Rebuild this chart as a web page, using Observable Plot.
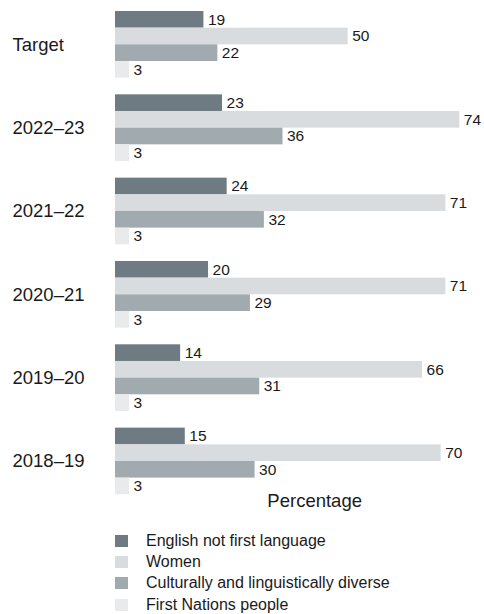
<!DOCTYPE html>
<html>
<head>
<meta charset="utf-8">
<script src="https://cdn.jsdelivr.net/npm/d3@7"></script>
<script src="https://cdn.jsdelivr.net/npm/@observablehq/plot@0.6"></script>
<style>
  html, body { margin: 0; padding: 0; background: #fff; }
  #chart { width: 484px; font-family: "Liberation Sans", Arial, sans-serif; color: #1a1a1a; }
  .legend { margin-top: 5px; }
  .legend .row { display: flex; align-items: center; height: 21.3px; font-size: 16px; }
  .legend .sw { width: 13px; height: 12px; margin-left: 115px; margin-right: 18px; flex: none; }
</style>
</head>
<body>
<div id="chart"></div>
<script>
const periods = ["Target", "2022–23", "2021–22", "2020–21", "2019–20", "2018–19"];
const seriesNames = ["English not first language", "Women", "Culturally and linguistically diverse", "First Nations people"];
const seriesColors = ["#6f7b82", "#d8dcdf", "#a1aaaf", "#e9eaec"];
const englishNotFirst = [19, 23, 24, 20, 14, 15];
const women = [50, 74, 71, 71, 66, 70];
const cald = [22, 36, 32, 29, 31, 30];
const firstNations = [3, 3, 3, 3, 3, 3];
const axisLabel = "Percentage";

const seriesValues = [englishNotFirst, women, cald, firstNations];
const rows = [];
periods.forEach((p, i) => {
  seriesNames.forEach((s, j) => {
    rows.push({period: p, series: s, value: seriesValues[j][i]});
  });
});

const font = "'Liberation Sans', Arial, sans-serif";

const chart = Plot.plot({
  width: 484,
  height: 525,
  marginLeft: 115,
  marginRight: 24.7,
  marginTop: 11,
  marginBottom: 30.7,
  style: {fontFamily: font, background: "#fff", color: "#1a1a1a"},
  x: {domain: [0, d3.max(rows, d => d.value)], axis: null},
  y: {domain: seriesNames, axis: null, padding: 0, round: false},
  fy: {domain: periods, axis: null, paddingInner: 0.2, paddingOuter: 0, round: false},
  color: {domain: seriesNames, range: seriesColors},
  marks: [
    Plot.barX(rows, {fy: "period", y: "series", x: "value", fill: "series"}),
    Plot.text(rows, {
      fy: "period", y: "series", x: "value", text: d => String(d.value),
      textAnchor: "start", dx: 4, fontSize: 15.5, fill: "#1a1a1a"
    }),
    Plot.text(periods, {
      fy: d => d, text: d => d, frameAnchor: "left", textAnchor: "start",
      dx: -103, fontSize: 18.5, fill: "#1a1a1a"
    }),
    Plot.text([axisLabel], {
      fy: () => periods[periods.length - 1], text: d => d,
      frameAnchor: "bottom", dy: 12.5, dx: 27, fontSize: 18.5, fill: "#1a1a1a"
    })
  ]
});

const root = document.getElementById("chart");
root.appendChild(chart);

const legend = document.createElement("div");
legend.className = "legend";
seriesNames.forEach((name, i) => {
  const row = document.createElement("div");
  row.className = "row";
  const sw = document.createElement("span");
  sw.className = "sw";
  sw.style.background = seriesColors[i];
  const label = document.createElement("span");
  label.textContent = name;
  row.appendChild(sw);
  row.appendChild(label);
  legend.appendChild(row);
});
root.appendChild(legend);
</script>
</body>
</html>
